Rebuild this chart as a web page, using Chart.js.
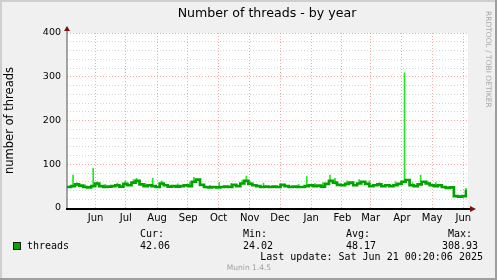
<!DOCTYPE html>
<html><head><meta charset="utf-8">
<script src="https://cdn.jsdelivr.net/npm/chart.js@4/dist/chart.umd.min.js"></script>
<style>
html,body{margin:0;padding:0;background:#f0f0f0;}
#wrap{position:relative;width:497px;height:280px;overflow:hidden;}
canvas{position:absolute;left:0;top:0;}
.t{position:absolute;white-space:pre;color:#000;}
.mono{font-family:"DejaVu Sans Mono",monospace;font-size:10px;line-height:12px;}
</style></head>
<body><div id="wrap">
<canvas id="c" width="497" height="280"></canvas>
<div class="t" id="title" style="left:67px;width:400px;top:5px;text-align:center;font:12.6px 'DejaVu Sans';line-height:16px;">Number of threads - by year</div>
<div class="t" style="left:441px;top:53px;width:94px;text-align:center;font:7.5px 'DejaVu Sans';line-height:10px;color:#a8a8a8;transform:rotate(90deg);">RRDTOOL / TOBI OETIKER</div>
<div class="t mono" style="left:140px;top:228px;">Cur:</div>
<div class="t mono" style="left:243px;top:228px;">Min:</div>
<div class="t mono" style="left:346px;top:228px;">Avg:</div>
<div class="t mono" style="left:448px;top:228px;">Max:</div>
<div style="position:absolute;left:13px;top:242px;width:6px;height:6px;background:#00a800;border:1px solid #1a1a1a;"></div>
<div class="t mono" style="left:27px;top:239.5px;">threads</div>
<div class="t mono" style="left:140px;top:239.5px;">42.06</div>
<div class="t mono" style="left:243px;top:239.5px;">24.02</div>
<div class="t mono" style="left:346px;top:239.5px;">48.17</div>
<div class="t mono" style="left:442px;top:239.5px;">308.93</div>
<div class="t mono" style="right:14px;top:251px;">Last update: Sat Jun 21 00:20:06 2025</div>
<div class="t" style="left:199px;width:100px;text-align:center;top:263px;font:7.5px 'DejaVu Sans';line-height:10px;color:#a0a0a0;">Munin 1.4.5</div>
</div>
<script>
// ---- data (x = days since 2024-05-19) ----
const avgDays = [0,4,8,12,16,20,24,28,32,36,40,44,48,52,56,60,64,68,72,76,80,84,88,92,96,100,104,108,112,116,120,124,128,132,136,140,144,148,152,156,160,164,168,172,176,180,184,188,192,196,200,204,208,212,216,220,224,228,232,236,240,244,248,252,256,260,264,268,272,276,280,284,288,292,296,300,304,308,312,316,320,324,328,332,336,340,344,348,352,356,360,364,368,372,376,380,384,388,392,396];
const avgValues = [48,50,54,51,48,47,50,56,50,48,49,50,52,49,55,52,58,62,54,50,52,50,48,56,52,49,50,49,50,52,50,60,65,53,48,47,48,47,48,49,48,53,50,56,62,55,52,50,48,49,48,49,48,53,50,48,49,48,48,50,52,50,51,49,55,62,58,53,52,55,58,52,56,60,55,50,52,54,50,52,50,52,55,60,64,52,50,54,60,56,52,50,52,48,46,47,27,26,27,42];
const spikeDays = [6,10,18,26,30,38,50,58,66,69,78,85,94,110,122,126,142,151,163,174,178,182,195,212,230,238,246,254,261,266,278,290,300,310,326,335,343,351,358,366,396];
const spikeLows = [50,52,47,52,52,48,50,52,58,58,50,50,54,50,52,62,47,48,50,56,60,55,49,50,48,50,50,50,60,55,55,56,52,52,52,62,52,60,55,50,40];
const spikeHighs = [75,58,53,91,60,54,57,62,65,68,56,68,62,55,60,70,52,58,56,64,73,60,57,55,54,72,56,58,75,68,62,65,62,58,60,309,58,75,62,58,45];
const monthLabels = ['Jun','Jul','Aug','Sep','Oct','Nov','Dec','Jan','Feb','Mar','Apr','May','Jun'];
const yTickLabels = [0,100,200,300,400];
const xStart = Date.UTC(2024,4,19), xDays = 397;

const DAY = 86400000;
const monthStarts = monthLabels.map((m,i)=> Math.round((Date.UTC(2024,5+i,1)-xStart)/DAY));
const PINK = 'rgba(255,95,95,0.55)', GRAY = 'rgba(140,140,140,0.35)';

const bgPlugin = {
  id:'bg',
  beforeDraw(c){
    const g=c.ctx, a=c.chartArea;
    g.save();
    g.fillStyle='#f0f0f0'; g.fillRect(0,0,497,280);
    g.fillStyle='#cfcfcf'; g.fillRect(0,0,497,2); g.fillRect(0,0,2,280);
    g.fillStyle='#9e9e9e'; g.fillRect(0,278,497,2); g.fillRect(495,0,2,280);
    g.fillStyle='#ffffff'; g.fillRect(a.left,a.top,a.right-a.left+1,a.bottom-a.top);
    g.restore();
  },
  afterDraw(c){
    const g=c.ctx, a=c.chartArea;
    g.save();
    g.fillStyle='#505050'; g.fillRect(a.left-0.5,a.top-5,1,a.bottom-a.top+5);
    g.fillStyle='#000'; g.fillRect(a.left-1,a.bottom,a.right-a.left+4,2);
    g.fillStyle='#7a1010';
    g.beginPath(); g.moveTo(a.left,a.top-7); g.lineTo(a.left-3,a.top-2); g.lineTo(a.left+3,a.top-2); g.closePath(); g.fill();
    g.beginPath(); g.moveTo(a.right+9,a.bottom+1); g.lineTo(a.right+3,a.bottom-2); g.lineTo(a.right+3,a.bottom+4); g.closePath(); g.fill();
    g.restore();
  }
};

new Chart(document.getElementById('c'),{
  data:{datasets:[
    {type:'line', data: avgDays.map((d,i)=>({x:d,y:avgValues[i]})), stepped:true, borderColor:'#00a300', borderWidth:2.7, pointRadius:0, order:1},
    {type:'bar', data: spikeDays.map((d,i)=>({x:d,y:[spikeLows[i],spikeHighs[i]]})), backgroundColor:'#22e622', barThickness:1, order:2}
  ]},
  options:{
    responsive:false, animation:false, devicePixelRatio:1,
    layout:{padding:{left:0,right:30,top:33,bottom:0}},
    plugins:{legend:{display:false}, tooltip:{enabled:false}, title:{display:false}},
    scales:{
      x:{type:'linear', min:0, max:xDays, offset:false,
        afterBuildTicks:s=>{s.ticks=monthStarts.map(v=>({value:v}));},
        afterFit:s=>{s.height=72;},
        ticks:{autoSkip:false, maxRotation:0, labelOffset:15.5, padding:4, color:'#000',
          font:{family:'DejaVu Sans',size:10},
          callback:(v,i)=>monthLabels[i]},
        grid:{color:PINK, drawTicks:false, lineWidth:1},
        border:{display:false, dash:[1,2]}
      },
      y:{min:0, max:400,
        afterBuildTicks:s=>{const t=[];for(let v=0;v<=400;v+=20)t.push({value:v});s.ticks=t;},
        afterFit:s=>{s.width=67;},
        ticks:{autoSkip:false, padding:6, color:'#000', font:{family:'DejaVu Sans',size:9.5},
          callback:v=> yTickLabels.includes(v)? String(v):''},
        grid:{color:ctx=> (ctx.tick && ctx.tick.value%100===0)? PINK: GRAY, drawTicks:false, lineWidth:1},
        border:{display:false, dash:[1,2]},
        title:{display:true, text:'number of threads', color:'#000', font:{family:'DejaVu Sans',size:11.5}, padding:{top:3,bottom:0}}
      }
    }
  },
  plugins:[bgPlugin]
});
</script>
</body></html>
